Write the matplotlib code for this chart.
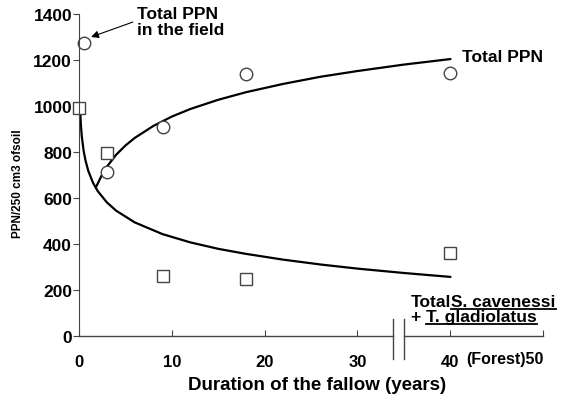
import matplotlib.pyplot as plt
import numpy as np
from matplotlib.transforms import blended_transform_factory
from matplotlib.lines import Line2D

plt.rcParams['font.family'] = ['Liberation Sans', 'DejaVu Sans']
plt.rcParams['font.weight'] = 'bold'

# observed points
total_x = [0.5, 3, 9, 18, 40]
total_y = [1275, 715, 910, 1140, 1145]
sc_x = [0, 3, 9, 18, 40]
sc_y = [990, 795, 262, 248, 360]

# trend curves
total_fit_x = [1.9, 2.5, 3, 4, 5, 6, 8, 10, 12, 15, 18, 22, 26, 30, 35, 40]
total_fit_y = [653, 703, 736, 788, 828, 861, 913, 954, 987, 1027, 1060, 1096, 1127, 1152, 1180, 1204]
sc_fit_x = [0.1, 0.2, 0.3, 0.5, 0.7, 1, 1.5, 2, 3, 4, 6, 9, 12, 15, 18, 22, 26, 30, 35, 40]
sc_fit_y = [1006, 919, 868, 805, 763, 718, 667, 631, 581, 545, 494, 443, 407, 379, 357, 332, 311, 293, 274, 257]

xticks = [0, 10, 20, 30, 40, 50]
xlabels = ['0', '10', '20', '30', '40', '']
yticks = [0, 200, 400, 600, 800, 1000, 1200, 1400]

W, H = 573, 402
fig = plt.figure(figsize=(5.73, 4.02), dpi=100)
ax = fig.add_axes([79 / W, 65 / H, 464 / W, 322 / H])

ax.plot(total_fit_x, total_fit_y, color='black', lw=1.6)
ax.plot(sc_fit_x, sc_fit_y, color='black', lw=1.6)
ax.plot(total_x, total_y, 'o', ms=9, mfc='white', mec='#444444', mew=1, clip_on=False)
ax.plot(sc_x, sc_y, 's', ms=8, mfc='white', mec='#444444', mew=1, clip_on=False)

ax.set_xlim(0, 50)
ax.set_ylim(0, 1400)
ax.set_xticks(xticks)
ax.set_xticklabels(xlabels)
ax.set_yticks(yticks)
ax.tick_params(axis='x', direction='in', length=4, pad=13, labelsize=12, color='#444444')
ax.tick_params(axis='y', direction='out', length=4, pad=1, labelsize=12.5, color='#444444')
for lab in ax.get_xticklabels() + ax.get_yticklabels():
    lab.set_fontweight('bold')

ax.spines['top'].set_visible(False)
ax.spines['right'].set_visible(False)
ax.spines['bottom'].set_visible(False)
ax.spines['left'].set_color('#444444')

# broken x axis
tr = blended_transform_factory(ax.transData, ax.transAxes)
ax.plot([0, 33.8], [0, 0], color='#444444', lw=1, transform=tr, clip_on=False)
ax.plot([35.0, 50], [0, 0], color='#444444', lw=1, transform=tr, clip_on=False)
for bx in [33.8, 35.0]:
    ax.plot([bx, bx], [-0.071, 0.053], color='#444444', lw=1, transform=tr, clip_on=False)

fig.text(544 / W, 1 - 360 / H, '(Forest)50', ha='right', va='center',
         fontsize=11.5, fontweight='bold')

fig.text(317 / W, 1 - 386 / H, 'Duration of the fallow (years)', ha='center', va='center',
         fontsize=13.5, fontweight='bold')
fig.text(18 / W, 1 - 184 / H, 'PPN/250 cm3 ofsoil', rotation=90, ha='center', va='center',
         fontsize=8.5, fontweight='bold')

# field annotation
fig.text(137 / W, 1 - 7 / H, 'Total PPN\nin the field', ha='left', va='top',
         fontsize=12.5, fontweight='bold', linespacing=1.05)
ax.annotate('', xy=(1.3, 1300), xytext=(5.8, 1365),
            arrowprops=dict(arrowstyle='-|>', color='black', lw=0.8, mutation_scale=11,
                            shrinkA=0, shrinkB=0))
ax.text(41.3, 1215, 'Total PPN', ha='left', va='center', fontsize=12.5, fontweight='bold')

# species labels with underline
fig.canvas.draw()
r = fig.canvas.get_renderer()
y1, y2 = 1 - 307 / H, 1 - 322 / H
t1 = fig.text(411 / W, y1, 'Total', ha='left', va='baseline', fontsize=12.5, fontweight='bold')
t3 = fig.text(411 / W, y2, '+ ', ha='left', va='baseline', fontsize=12.5, fontweight='bold')
b1 = t1.get_window_extent(r)
b3 = t3.get_window_extent(r)
t2 = fig.text(b1.x1 / W, y1, 'S. cavenessi', ha='left', va='baseline', fontsize=12.5, fontweight='bold')
t4 = fig.text(b3.x1 / W, y2, 'T. gladiolatus', ha='left', va='baseline', fontsize=12.5, fontweight='bold')
for t, yb in [(t2, y1), (t4, y2)]:
    b = t.get_window_extent(r)
    fig.add_artist(Line2D([b.x0 / W, b.x1 / W], [yb - 2.5 / H] * 2, color='black', lw=1.3))

fig.savefig('out.png', dpi=100)
